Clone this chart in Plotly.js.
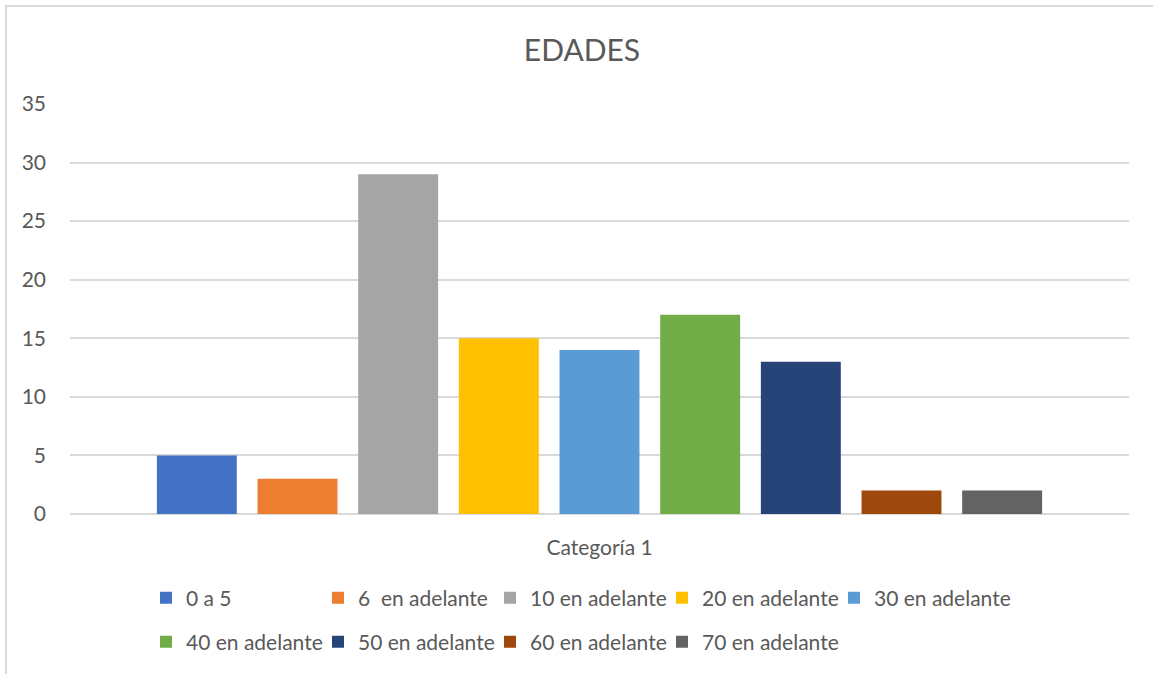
<!DOCTYPE html>
<html>
<head>
<meta charset="utf-8">
<script src="https://cdn.plot.ly/plotly-3.0.1.min.js"></script>
<style>
  html, body { margin: 0; padding: 0; background: #ffffff; }
  #wrap { position: relative; width: 1153px; height: 674px; overflow: hidden; }
  #frame { position: absolute; left: 5px; top: 5px; width: 1200px; height: 700px;
           border-left: 2px solid #D9D9D9; border-top: 2px solid #D9D9D9; box-sizing: border-box; pointer-events: none; }
  #chart { position: absolute; left: 0; top: 0; width: 1153px; height: 674px; }
</style>
</head>
<body>
<div id="wrap">
  <div id="chart"></div>
  <div id="frame"></div>
</div>
<script>
const categories = ["Categoría 1"];
const seriesNames = ["0 a 5", "6  en adelante", "10 en adelante", "20 en adelante", "30 en adelante",
                     "40 en adelante", "50 en adelante", "60 en adelante", "70 en adelante"];
const seriesValues = [5, 3, 29, 15, 14, 17, 13, 2, 2];
const seriesColors = ["#4472C4", "#ED7D31", "#A5A5A5", "#FFC000", "#5B9BD5",
                      "#70AD47", "#264478", "#9E480E", "#636363"];
const yTicks = [0, 5, 10, 15, 20, 25, 30, 35];

const FONT = "Lato, 'Open Sans', sans-serif";
const TXT = "#595959";
const PER_ROW = 5;

const traces = seriesNames.map((name, i) => {
  const t = {
    type: "bar",
    name: name,
    x: categories,
    y: [seriesValues[i]],
    marker: { color: seriesColors[i], line: { width: 0 } },
    legend: i < PER_ROW ? "legend" : "legend2",
    hoverinfo: "name+y"
  };
  if (i === PER_ROW - 1 || i === seriesNames.length - 1) t.legendwidth = 170;
  return t;
});

const legendCommon = {
  orientation: "h",
  xref: "container", yref: "container",
  xanchor: "left", yanchor: "middle",
  entrywidth: 127, entrywidthmode: "pixels",
  font: { family: FONT, size: 21, color: TXT },
  bgcolor: "rgba(0,0,0,0)",
  itemclick: false, itemdoubleclick: false,
  traceorder: "normal"
};

const layout = {
  width: 1153, height: 674,
  margin: { l: 70, r: 24, t: 104, b: 160 },
  paper_bgcolor: "#ffffff",
  plot_bgcolor: "#ffffff",
  font: { family: FONT, color: TXT },
  title: {
    text: "EDADES",
    font: { family: FONT, size: 30, color: TXT },
    xref: "container", yref: "container",
    x: 582 / 1153, xanchor: "center",
    y: 1 - 50 / 674, yanchor: "middle"
  },
  barmode: "group",
  bargap: 0.1445,
  bargroupgap: 0.206,
  xaxis: {
    type: "category",
    range: [-0.5, 0.5],
    showgrid: false,
    showline: false,
    zeroline: false,
    ticks: "",
    ticklabelstandoff: 19,
    tickfont: { family: FONT, size: 21, color: TXT },
    fixedrange: true
  },
  yaxis: {
    range: [0, 35],
    tickmode: "array",
    tickvals: yTicks,
    ticktext: yTicks.map(String),
    showgrid: true,
    gridcolor: "#D9D9D9",
    gridwidth: 1.5,
    zeroline: true,
    zerolinecolor: "#D9D9D9",
    zerolinewidth: 1.5,
    showline: false,
    ticks: "",
    ticklabelstandoff: 23,
    tickfont: { family: FONT, size: 21, color: TXT },
    fixedrange: true
  },
  showlegend: true,
  legend: Object.assign({}, legendCommon, { x: 146 / 1153, y: 1 - 598 / 674 }),
  legend2: Object.assign({}, legendCommon, { x: 146 / 1153, y: 1 - 642 / 674 })
};

Plotly.newPlot("chart", traces, layout, { displayModeBar: false, staticPlot: false });
</script>
</body>
</html>
